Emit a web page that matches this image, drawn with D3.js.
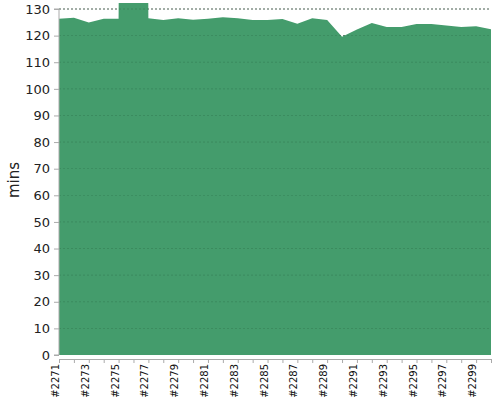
<!DOCTYPE html>
<html><head><meta charset="utf-8">
<script src="https://cdn.jsdelivr.net/npm/d3@7"></script>
<style>body{margin:0;background:#fff}text{font-family:"DejaVu Sans",sans-serif}</style>
</head><body><svg id="c" width="500" height="400"></svg>
<script>
const builds = d3.range(2271, 2301).map(n => "#" + n);
const mins = [126.3,126.7,124.9,126.3,126.3,1000,126.5,125.9,126.5,126,126.3,126.9,126.5,125.9,125.9,126.2,124.5,126.5,125.9,119.6,122.3,124.7,123.2,123.2,124.4,124.4,123.8,123.2,123.5,122.4];
const yTicks = d3.range(0, 131, 10);

const svg = d3.select("#c");
const m = {left: 59, right: 9, top: 9, bottom: 45};
const W = 500 - m.left - m.right, H = 400 - m.top - m.bottom;
const g = svg.append("g").attr("transform", `translate(${m.left},${m.top})`);
const x = d3.scalePoint().domain(builds).range([0, W]);
const y = d3.scaleLinear().domain([0, 130]).range([H, 0]);

svg.append("clipPath").attr("id", "clip").append("rect").attr("y", -6).attr("width", W).attr("height", H + 6);

g.selectAll(".grid").data(yTicks.slice(1)).join("line")
  .attr("x1", 0).attr("x2", W).attr("y1", d => y(d)).attr("y2", d => y(d))
  .attr("stroke", "#555").attr("stroke-dasharray", "2,2").attr("stroke-width", 0.8);

g.append("path").datum(mins).attr("clip-path", "url(#clip)")
  .attr("fill", "#449c6c")
  .attr("d", d3.area().x((d, i) => x(builds[i])).y0(H).y1(d => y(d)));

g.selectAll(".grid2").data(yTicks.slice(1)).join("line")
  .attr("x1", 0).attr("x2", W).attr("y1", d => y(d)).attr("y2", d => y(d))
  .attr("stroke", "#2d6b48").attr("stroke-dasharray", "2,2").attr("stroke-width", 0.6).attr("opacity", 0.6);

const ya = g.append("g").call(d3.axisLeft(y).tickValues(yTicks).tickSize(5).tickPadding(4));
ya.select(".domain").attr("stroke", "#aaa").attr("d", `M-5,0H0V${H}H-5`);
ya.selectAll("line").attr("stroke", "#aaa");
ya.selectAll("text").attr("font-size", 13).attr("fill", "#222");

const xa = g.append("g").attr("transform", `translate(0,${H + 4})`)
  .call(d3.axisBottom(x).tickSize(4).tickFormat((d, i) => i % 2 ? "" : d));
xa.select(".domain").attr("stroke", "#aaa");
xa.selectAll("line").attr("stroke", "#aaa");
xa.selectAll("text").attr("font-size", 10).attr("fill", "#111")
  .attr("transform", "rotate(-90)").attr("text-anchor", "end")
  .attr("x", -5).attr("y", -4).attr("dy", "0.35em");

svg.append("text").attr("transform", "translate(19,180) rotate(-90)")
  .attr("text-anchor", "middle").attr("font-size", 15).attr("fill", "#222").text("mins");
</script></body></html>
